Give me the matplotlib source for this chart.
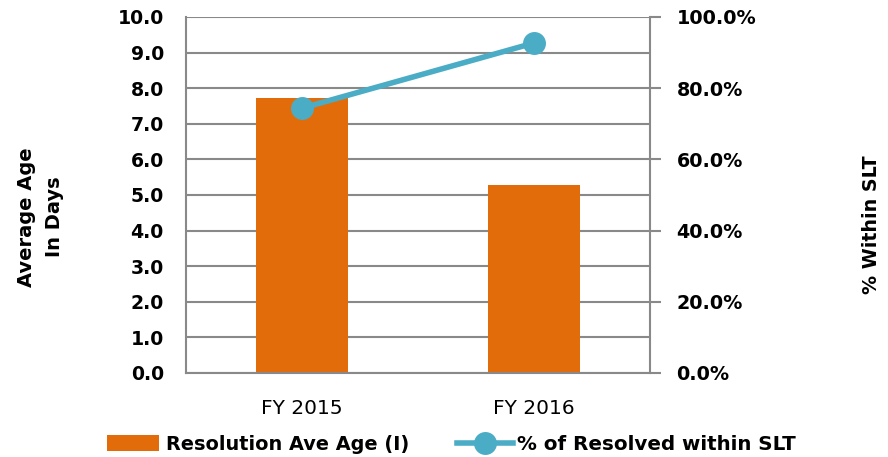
import matplotlib
matplotlib.use("Agg")
import matplotlib.pyplot as plt
from matplotlib.ticker import FuncFormatter
from matplotlib.lines import Line2D
from matplotlib.patches import Patch

categories = ["FY 2015", "FY 2016"]
ave_age = [7.72, 5.28]
pct_within = [74.4, 92.7]
left_ticks = [0, 1, 2, 3, 4, 5, 6, 7, 8, 9, 10]
right_ticks = [0, 20, 40, 60, 80, 100]

ORANGE = "#E36C0A"
TEAL = "#4BACC6"
GRID = "#898989"
FONT = "DejaVu Sans"

plt.rcParams['font.family'] = [FONT]

fig = plt.figure(figsize=(8.88, 4.57), dpi=100)
ax = fig.add_axes([186/888, 1-373/457, (650-186)/888, (373-17)/457])
x = list(range(len(categories)))
ax.bar(x, ave_age, width=0.4, color=ORANGE, zorder=2)
ax.set_xlim(-0.5, 1.5)
ax.set_ylim(0, 10)
ax.set_yticks(left_ticks)
ax.yaxis.set_major_formatter(FuncFormatter(lambda v, p: f"{v:.1f}"))
ax.grid(axis='y', color=GRID, linewidth=1.5, zorder=0)
ax.set_axisbelow(True)
for s in ['top', 'right']:
    ax.spines[s].set_visible(False)
ax.spines['left'].set_color(GRID)
ax.spines['left'].set_linewidth(1.5)
ax.spines['bottom'].set_color(GRID)
ax.spines['bottom'].set_linewidth(1.5)
ax.tick_params(axis='y', length=0, pad=16, labelsize=13.6)
ax.tick_params(axis='x', length=0, pad=19, labelsize=14.5)
ax.set_xticks(x)
ax.set_xticklabels(categories)
for t in ax.get_yticklabels():
    t.set_fontweight('bold')

ax2 = ax.twinx()
ax2.plot(x, pct_within, color=TEAL, linewidth=4, marker='o', markersize=15.5, zorder=3)
ax2.set_ylim(0, 100)
ax2.set_yticks(right_ticks)
ax2.yaxis.set_major_formatter(FuncFormatter(lambda v, p: f"{v:.1f}%"))
for s in ['top', 'left', 'bottom']:
    ax2.spines[s].set_visible(False)
ax2.spines['right'].set_color(GRID)
ax2.spines['right'].set_linewidth(1.5)
ax2.tick_params(axis='y', direction='out', length=8, width=1.5, color=GRID, pad=11, labelsize=13.8)
for t in ax2.get_yticklabels():
    t.set_fontweight('bold')

fig.text(40/888, 1-217/457, "Average Age\nIn Days", rotation=90, ha='center', va='center',
         fontsize=14, fontweight='bold', linespacing=1.6)
fig.text(871/888, 1-225/457, "% Within SLT", rotation=90, ha='center', va='center',
         fontsize=13.7, fontweight='bold')

prop1 = {'family': FONT, 'weight': 'bold', 'size': 13.9}
prop2 = {'family': FONT, 'weight': 'bold', 'size': 14.3}
leg1 = fig.legend([Patch(facecolor=ORANGE, edgecolor='none')], ["Resolution Ave Age (I)"],
                  loc='center left', bbox_to_anchor=(107/888, 1-444/457), frameon=False,
                  handlelength=2.7, handleheight=0.9, handletextpad=0.35,
                  borderpad=0, borderaxespad=0, prop=prop1)
leg2 = fig.legend([Line2D([0], [0], color=TEAL, linewidth=4, marker='o', markersize=15.5)],
                  ["% of Resolved within SLT"],
                  loc='center left', bbox_to_anchor=(457/888, 1-444/457), frameon=False,
                  handlelength=2.8, handletextpad=0.2,
                  borderpad=0, borderaxespad=0, prop=prop2)

fig.savefig("out.png", dpi=100)
